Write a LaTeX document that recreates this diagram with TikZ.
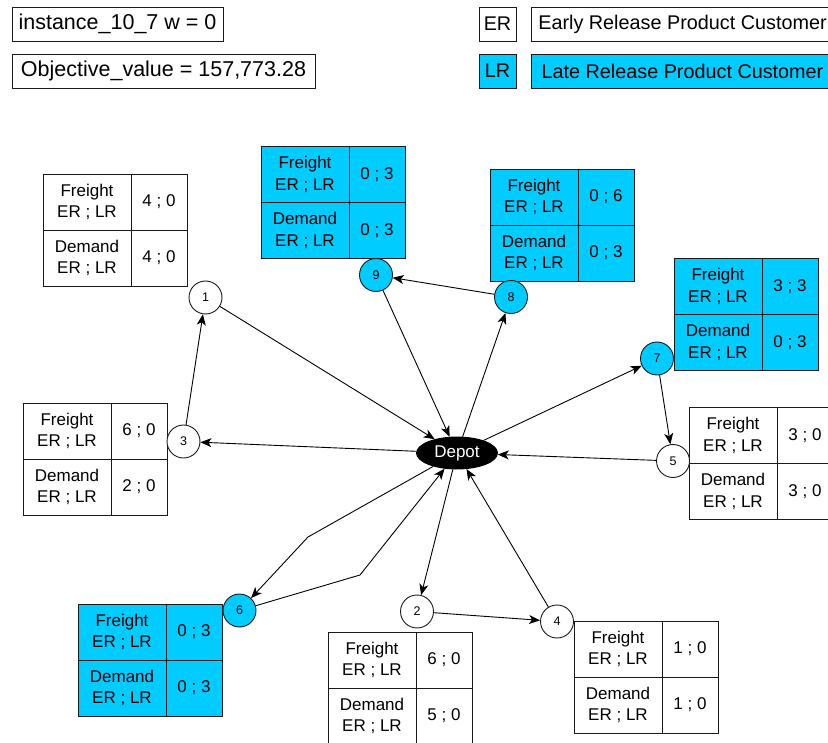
\documentclass[tikz,border=0pt]{standalone}
\usepackage{fontspec}
\setmainfont{Liberation Sans}
\usepackage{tikz}
\usetikzlibrary{arrows.meta, shapes.geometric}
\definecolor{trait}{HTML}{1A1A1A}
\definecolor{tardif}{HTML}{00CCFF}
\tikzset{
  cadre/.style={rectangle, draw=trait, fill=white, inner sep=0pt,
    minimum height=34pt, font=\fontsize{21.5}{25}\selectfont},
  legende/.style={cadre, font=\fontsize{19.8}{23}\selectfont},
  legendelr/.style={legende, fill=tardif},
  cellule/.style={rectangle, draw=trait, align=center, inner sep=0pt,
    minimum height=56pt, font=\fontsize{17}{21.3}\selectfont},
  gauche/.style={cellule, minimum width=88pt},
  droite/.style={cellule, minimum width=56pt},
  tableau/.style={inner sep=0pt, column sep=-\pgflinewidth,
    row sep=-\pgflinewidth, nodes={fill=white}},
  tableaulr/.style={tableau, nodes={fill=tardif}},
  client/.style={circle, draw=trait, fill=white, minimum size=33pt,
    inner sep=0pt, font=\fontsize{12.5}{14}\selectfont},
  clientlr/.style={client, fill=tardif},
  depot/.style={ellipse, draw=black, fill=black, text=white, inner sep=0pt,
    minimum width=81pt, minimum height=32pt, font=\fontsize{17}{20}\selectfont},
  fleche/.style={-{Stealth[length=11pt, width=9pt, inset=3pt]}, draw=black}
}

\begin{document}
\begin{tikzpicture}[x=1pt, y=-1pt, line width=0.9pt]
    \useasboundingbox (0,0) rectangle (828,743);
    \clip (0,0) rectangle (828,743);

    % legende
    \node[cadre, minimum width=211pt] (titre) at (117.5,24) {instance\_10\_7 w = 0};
    \node[cadre, minimum width=303pt] (objectif) at (163.5,71) {Objective\_value = 157,773.28};
    \node[legende, minimum width=37pt] (er) at (497.5,24) {ER};
    \node[legende, minimum width=303pt] (early) at (682.5,24) {Early Release Product Customer};
    \node[legendelr, minimum width=37pt] (lr) at (497.5,71) {LR};
    \node[legendelr, minimum width=303pt] (late) at (682.5,71) {Late Release Product Customer};

    % tableaux des clients
    \matrix[tableau] (tab1) at (115,230) {
      \node[gauche]{Freight\\ER ; LR}; & \node[droite]{4 ; 0};\\
      \node[gauche]{Demand\\ER ; LR}; & \node[droite]{4 ; 0};\\
    };
    \matrix[tableaulr] (tab9) at (333,202.5) {
      \node[gauche]{Freight\\ER ; LR}; & \node[droite]{0 ; 3};\\
      \node[gauche]{Demand\\ER ; LR}; & \node[droite]{0 ; 3};\\
    };
    \matrix[tableaulr] (tab8) at (562,225) {
      \node[gauche]{Freight\\ER ; LR}; & \node[droite]{0 ; 6};\\
      \node[gauche]{Demand\\ER ; LR}; & \node[droite]{0 ; 3};\\
    };
    \matrix[tableaulr] (tab7) at (746,314.5) {
      \node[gauche]{Freight\\ER ; LR}; & \node[droite]{3 ; 3};\\
      \node[gauche]{Demand\\ER ; LR}; & \node[droite]{0 ; 3};\\
    };
    \matrix[tableau] (tab5) at (761,463.5) {
      \node[gauche]{Freight\\ER ; LR}; & \node[droite]{3 ; 0};\\
      \node[gauche]{Demand\\ER ; LR}; & \node[droite]{3 ; 0};\\
    };
    \matrix[tableau] (tab3) at (95,459) {
      \node[gauche]{Freight\\ER ; LR}; & \node[droite]{6 ; 0};\\
      \node[gauche]{Demand\\ER ; LR}; & \node[droite]{2 ; 0};\\
    };
    \matrix[tableaulr] (tab6) at (150,660) {
      \node[gauche]{Freight\\ER ; LR}; & \node[droite]{0 ; 3};\\
      \node[gauche]{Demand\\ER ; LR}; & \node[droite]{0 ; 3};\\
    };
    \matrix[tableau] (tab2) at (400,688) {
      \node[gauche]{Freight\\ER ; LR}; & \node[droite]{6 ; 0};\\
      \node[gauche]{Demand\\ER ; LR}; & \node[droite]{5 ; 0};\\
    };
    \matrix[tableau] (tab4) at (646,677) {
      \node[gauche]{Freight\\ER ; LR}; & \node[droite]{1 ; 0};\\
      \node[gauche]{Demand\\ER ; LR}; & \node[droite]{1 ; 0};\\
    };

    % clients et depot
    \node[depot] (depot) at (457,453) {Depot};
    \node[client] (c1) at (205.5,297.5) {1};
    \node[client] (c2) at (417,611.5) {2};
    \node[client] (c3) at (183.5,441.5) {3};
    \node[client] (c4) at (557,621.5) {4};
    \node[client] (c5) at (673,461) {5};
    \node[clientlr] (c6) at (239.5,610.5) {6};
    \node[clientlr] (c7) at (657,358.5) {7};
    \node[clientlr] (c8) at (511,297) {8};
    \node[clientlr] (c9) at (376,275) {9};
    \coordinate (coude6a) at (308,537);
    \coordinate (coude6b) at (360,575);

    % tournees
    \draw[fleche] (depot) -- (c3);
    \draw[fleche] (c3) -- (c1);
    \draw[fleche] (c1) -- (depot);
    \draw[fleche] (depot) -- (c8);
    \draw[fleche] (c8) -- (c9);
    \draw[fleche] (c9) -- (depot);
    \draw[fleche] (depot) -- (c7);
    \draw[fleche] (c7) -- (c5);
    \draw[fleche] (c5) -- (depot);
    \draw[fleche] (depot) -- (coude6a) -- (c6);
    \draw[fleche] (c6) -- (coude6b) -- (depot);
    \draw[fleche] (depot) -- (c2);
    \draw[fleche] (c2) -- (c4);
    \draw[fleche] (c4) -- (depot);
  \end{tikzpicture}
\end{document}
